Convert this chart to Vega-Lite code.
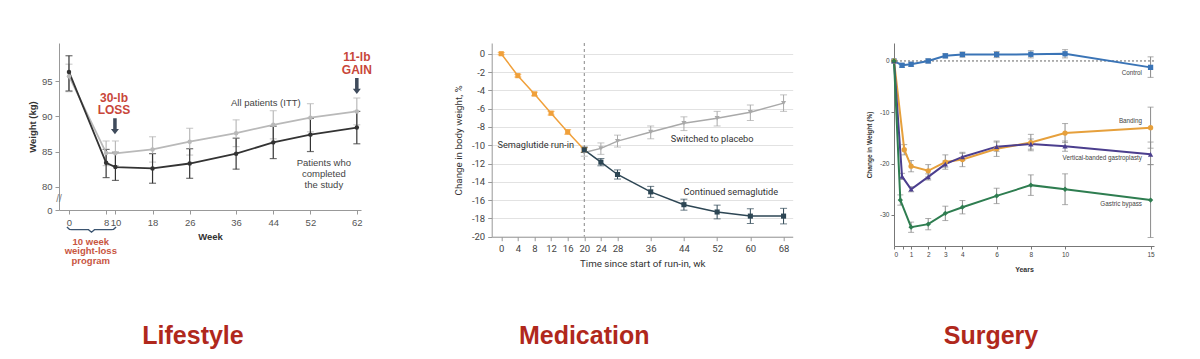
{
  "$schema": "https://vega.github.io/schema/vega-lite/v6.json",
  "background": "white",
  "padding": {"left": 27, "top": 42, "right": 0, "bottom": 0},
  "bounds": "flush",
  "spacing": 130.7,
  "resolve": {"scale": {"color": "independent", "shape": "independent"}},
  "config": {"view": {"stroke": null}},
  "datasets": {
    "life": [
      {"week": 0, "weight": 95.7, "lo": 93.5, "hi": 97.4, "group": "ITT"},
      {"week": 8, "weight": 84.8, "lo": 83.0, "hi": 86.5, "group": "ITT"},
      {"week": 10, "weight": 84.75, "lo": 83.0, "hi": 86.5, "group": "ITT"},
      {"week": 18, "weight": 85.3, "lo": 83.5, "hi": 87.1, "group": "ITT"},
      {"week": 26, "weight": 86.4, "lo": 84.5, "hi": 88.3, "group": "ITT"},
      {"week": 36, "weight": 87.6, "lo": 85.7, "hi": 89.5, "group": "ITT"},
      {"week": 44, "weight": 88.8, "lo": 86.8, "hi": 90.8, "group": "ITT"},
      {"week": 52, "weight": 89.8, "lo": 87.8, "hi": 91.8, "group": "ITT"},
      {"week": 62, "weight": 90.7, "lo": 88.8, "hi": 92.6, "group": "ITT"},
      {"week": 0, "weight": 96.3, "lo": 93.6, "hi": 98.6, "group": "Completers"},
      {"week": 8, "weight": 83.4, "lo": 81.3, "hi": 85.3, "group": "Completers"},
      {"week": 10, "weight": 82.8, "lo": 80.9, "hi": 84.9, "group": "Completers"},
      {"week": 18, "weight": 82.6, "lo": 80.5, "hi": 84.7, "group": "Completers"},
      {"week": 26, "weight": 83.3, "lo": 81.2, "hi": 85.4, "group": "Completers"},
      {"week": 36, "weight": 84.7, "lo": 82.5, "hi": 86.9, "group": "Completers"},
      {"week": 44, "weight": 86.3, "lo": 84.0, "hi": 88.6, "group": "Completers"},
      {"week": 52, "weight": 87.4, "lo": 85.0, "hi": 89.7, "group": "Completers"},
      {"week": 62, "weight": 88.4, "lo": 86.1, "hi": 90.7, "group": "Completers"}
    ],
    "life_red": [
      {"week": 9.7, "weight": 92.64, "label": "30-lb\nLOSS"},
      {"week": 62, "weight": 98.42, "label": "11-lb\nGAIN"}
    ],
    "life_red_small": [
      {"week": 4.7, "weight": 72.19, "label": "10 week\nweight-loss\nprogram"}
    ],
    "life_gray": [
      {"week": 42.4, "weight": 91.93, "label": "All patients (ITT)"},
      {"week": 54.9, "weight": 83.41, "label": "Patients who\ncompleted\nthe study"}
    ],
    "life_arrows": [
      {"week": 9.9, "weight": 88.6},
      {"week": 62, "weight": 94.3}
    ],
    "life_brace": [
      {"week": -0.45, "weight": 74.3},
      {"week": 0.1, "weight": 73.96},
      {"week": 0.6, "weight": 73.91},
      {"week": 4.2, "weight": 73.91},
      {"week": 4.85, "weight": 73.55},
      {"week": 5.5, "weight": 73.91},
      {"week": 9.1, "weight": 73.91},
      {"week": 9.6, "weight": 73.96},
      {"week": 10.15, "weight": 74.3}
    ],
    "life_break": [
      {"week": -2.15, "weight": 78.2, "label": "//"}
    ],
    "med": [
      {"week": 0, "change": 0, "lo": -0.12, "hi": 0.12, "group": "Run-in"},
      {"week": 4, "change": -2.4, "lo": -2.55, "hi": -2.25, "group": "Run-in"},
      {"week": 8, "change": -4.4, "lo": -4.6, "hi": -4.2, "group": "Run-in"},
      {"week": 12, "change": -6.5, "lo": -6.7, "hi": -6.3, "group": "Run-in"},
      {"week": 16, "change": -8.55, "lo": -8.8, "hi": -8.3, "group": "Run-in"},
      {"week": 20, "change": -10.5, "lo": -10.75, "hi": -10.25, "group": "Run-in"},
      {"week": 20, "change": -10.8, "lo": -11.2, "hi": -10.4, "group": "Placebo"},
      {"week": 24, "change": -10.35, "lo": -11.0, "hi": -9.75, "group": "Placebo"},
      {"week": 28, "change": -9.55, "lo": -10.2, "hi": -8.9, "group": "Placebo"},
      {"week": 36, "change": -8.55, "lo": -9.3, "hi": -7.9, "group": "Placebo"},
      {"week": 44, "change": -7.6, "lo": -8.4, "hi": -6.9, "group": "Placebo"},
      {"week": 52, "change": -7.05, "lo": -7.9, "hi": -6.3, "group": "Placebo"},
      {"week": 60, "change": -6.4, "lo": -7.3, "hi": -5.6, "group": "Placebo"},
      {"week": 68, "change": -5.4, "lo": -6.3, "hi": -4.5, "group": "Placebo"},
      {"week": 20, "change": -10.5, "lo": -10.8, "hi": -10.2, "group": "Continued"},
      {"week": 24, "change": -11.85, "lo": -12.25, "hi": -11.45, "group": "Continued"},
      {"week": 28, "change": -13.2, "lo": -13.7, "hi": -12.7, "group": "Continued"},
      {"week": 36, "change": -15.1, "lo": -15.7, "hi": -14.5, "group": "Continued"},
      {"week": 44, "change": -16.5, "lo": -17.1, "hi": -15.9, "group": "Continued"},
      {"week": 52, "change": -17.3, "lo": -18.05, "hi": -16.55, "group": "Continued"},
      {"week": 60, "change": -17.75, "lo": -18.55, "hi": -16.95, "group": "Continued"},
      {"week": 68, "change": -17.75, "lo": -18.6, "hi": -16.9, "group": "Continued"}
    ],
    "med_vline": [{"week": 20}],
    "med_labels": [
      {"week": 8.3, "change": -9.98, "label": "Semaglutide run-in"},
      {"week": 50.8, "change": -9.29, "label": "Switched to placebo"},
      {"week": 55.3, "change": -15.08, "label": "Continued semaglutide"}
    ],
    "surg": [
      {"year": 0, "change": 0, "lo": 0, "hi": 0, "group": "Control"},
      {"year": 0.47, "change": -0.85, "lo": -1.25, "hi": -0.45, "group": "Control"},
      {"year": 1, "change": -0.65, "lo": -1.05, "hi": -0.25, "group": "Control"},
      {"year": 2, "change": 0, "lo": -0.4, "hi": 0.4, "group": "Control"},
      {"year": 3, "change": 1.0, "lo": 0.6, "hi": 1.4, "group": "Control"},
      {"year": 4, "change": 1.25, "lo": 0.75, "hi": 1.75, "group": "Control"},
      {"year": 6, "change": 1.25, "lo": 0.65, "hi": 1.85, "group": "Control"},
      {"year": 8, "change": 1.3, "lo": 0.6, "hi": 2.0, "group": "Control"},
      {"year": 10, "change": 1.4, "lo": 0.6, "hi": 2.2, "group": "Control"},
      {"year": 15, "change": -1.25, "lo": -3.2, "hi": 0.8, "group": "Control"},
      {"year": 0, "change": 0, "lo": 0, "hi": 0, "group": "Banding"},
      {"year": 0.6, "change": -17.3, "lo": -18.3, "hi": -16.3, "group": "Banding"},
      {"year": 1, "change": -20.5, "lo": -21.6, "hi": -19.4, "group": "Banding"},
      {"year": 2, "change": -21.4, "lo": -22.6, "hi": -20.2, "group": "Banding"},
      {"year": 3, "change": -19.7, "lo": -21.1, "hi": -18.3, "group": "Banding"},
      {"year": 4, "change": -19.2, "lo": -20.6, "hi": -17.8, "group": "Banding"},
      {"year": 6, "change": -17.1, "lo": -18.6, "hi": -15.6, "group": "Banding"},
      {"year": 8, "change": -15.9, "lo": -17.5, "hi": -14.3, "group": "Banding"},
      {"year": 10, "change": -14.05, "lo": -15.9, "hi": -12.2, "group": "Banding"},
      {"year": 15, "change": -13.0, "lo": -17.0, "hi": -9.0, "group": "Banding"},
      {"year": 0, "change": 0, "lo": 0, "hi": 0, "group": "VBG"},
      {"year": 0.47, "change": -22.5, "lo": -23.1, "hi": -21.9, "group": "VBG"},
      {"year": 1, "change": -25.0, "lo": -25.5, "hi": -24.5, "group": "VBG"},
      {"year": 2, "change": -22.6, "lo": -23.2, "hi": -22.0, "group": "VBG"},
      {"year": 3, "change": -20.1, "lo": -20.7, "hi": -19.5, "group": "VBG"},
      {"year": 4, "change": -18.7, "lo": -19.4, "hi": -18.0, "group": "VBG"},
      {"year": 6, "change": -16.7, "lo": -17.6, "hi": -15.8, "group": "VBG"},
      {"year": 8, "change": -16.2, "lo": -17.2, "hi": -15.2, "group": "VBG"},
      {"year": 10, "change": -16.6, "lo": -17.6, "hi": -15.6, "group": "VBG"},
      {"year": 15, "change": -18.2, "lo": -20.2, "hi": -15.8, "group": "VBG"},
      {"year": 0, "change": 0, "lo": 0, "hi": 0, "group": "Bypass"},
      {"year": 0.37, "change": -27.1, "lo": -28.1, "hi": -26.1, "group": "Bypass"},
      {"year": 1, "change": -32.4, "lo": -33.4, "hi": -31.4, "group": "Bypass"},
      {"year": 2, "change": -31.8, "lo": -32.9, "hi": -30.7, "group": "Bypass"},
      {"year": 3, "change": -29.7, "lo": -31.1, "hi": -28.3, "group": "Bypass"},
      {"year": 4, "change": -28.5, "lo": -29.8, "hi": -27.2, "group": "Bypass"},
      {"year": 6, "change": -26.3, "lo": -27.8, "hi": -24.8, "group": "Bypass"},
      {"year": 8, "change": -24.2, "lo": -26.2, "hi": -22.2, "group": "Bypass"},
      {"year": 10, "change": -25.0, "lo": -28.0, "hi": -22.0, "group": "Bypass"},
      {"year": 15, "change": -27.1, "lo": -34.4, "hi": -20.2, "group": "Bypass"}
    ],
    "surg_zero": [{"change": 0}],
    "surg_labels": [
      {"year": 14.5, "change": -2.28, "label": "Control"},
      {"year": 14.5, "change": -11.7, "label": "Banding"},
      {"year": 14.5, "change": -18.9, "label": "Vertical-banded gastroplasty"},
      {"year": 14.5, "change": -27.8, "label": "Gastric bypass"}
    ]
  },
  "hconcat": [
    {
      "width": 302,
      "height": 167,
      "title": {"text": "Lifestyle", "orient": "bottom", "anchor": "middle", "frame": "group", "dx": -17, "offset": 58, "font": "Liberation Sans", "fontSize": 25, "fontWeight": "bold", "color": "#b0281c"},
      "encoding": {
        "x": {"field": "week", "type": "quantitative", "title": "Week",
          "scale": {"domain": [-2.15, 62.9], "nice": false, "zero": false},
          "axis": {"values": [0, 8, 10, 18, 26, 36, 44, 52, 62], "labelOverlap": false, "grid": false, "domainColor": "#999", "tickColor": "#999", "tickSize": 4, "labelFont": "Liberation Sans", "labelFontSize": 9.5, "labelColor": "#555", "labelPadding": 3, "titleFont": "Liberation Sans", "titleFontSize": 9.5, "titleFontWeight": "bold", "titleColor": "#333", "titlePadding": 5}},
        "y": {"field": "weight", "type": "quantitative", "title": "Weight (kg)",
          "scale": {"domain": [76.7, 100.41], "nice": false, "zero": false},
          "axis": {"values": [76.7, 80, 85, 90, 95], "labelOverlap": false, "labelExpr": "datum.value < 78 ? '0' : format(datum.value, 'd')", "grid": false, "domainColor": "#999", "tickColor": "#999", "tickSize": 4, "labelFont": "Liberation Sans", "labelFontSize": 9.5, "labelColor": "#555", "labelPadding": 3, "titleFont": "Liberation Sans", "titleFontSize": 9.5, "titleFontWeight": "bold", "titleColor": "#333", "titlePadding": 4}}
      },
      "layer": [
        {
          "data": {"name": "life"},
          "mark": {"type": "errorbar", "ticks": true, "size": 7, "thickness": 1.2},
          "encoding": {
            "y": {"field": "lo", "type": "quantitative", "title": "Weight (kg)"},
            "y2": {"field": "hi"},
            "color": {"field": "group", "type": "nominal", "scale": {"domain": ["ITT", "Completers"], "range": ["#b9b9b9", "#333333"]}, "legend": null}
          }
        },
        {
          "data": {"name": "life"},
          "mark": {"type": "line", "strokeWidth": 1.8},
          "encoding": {
            "color": {"field": "group", "type": "nominal", "scale": {"domain": ["ITT", "Completers"], "range": ["#b9b9b9", "#333333"]}, "legend": null}
          }
        },
        {
          "data": {"name": "life"},
          "mark": {"type": "point", "filled": true, "size": 20, "opacity": 1},
          "encoding": {
            "color": {"field": "group", "type": "nominal", "scale": {"domain": ["ITT", "Completers"], "range": ["#b9b9b9", "#333333"]}, "legend": null}
          }
        },
        {
          "data": {"name": "life_red"},
          "mark": {"type": "text", "lineBreak": "\n", "font": "Liberation Sans", "fontSize": 12, "fontWeight": "bold", "color": "#c8463a", "align": "center", "baseline": "middle", "lineHeight": 12.5},
          "encoding": {"text": {"field": "label"}}
        },
        {
          "data": {"name": "life_red_small"},
          "mark": {"type": "text", "lineBreak": "\n", "font": "Liberation Sans", "fontSize": 9.5, "fontWeight": "bold", "color": "#c8563f", "align": "center", "baseline": "middle", "lineHeight": 9.7},
          "encoding": {"text": {"field": "label"}}
        },
        {
          "data": {"name": "life_gray"},
          "mark": {"type": "text", "lineBreak": "\n", "font": "Liberation Sans", "fontSize": 9.5, "color": "#444", "align": "center", "baseline": "middle", "lineHeight": 11.3},
          "encoding": {"text": {"field": "label"}}
        },
        {
          "data": {"name": "life_arrows"},
          "mark": {"type": "point", "shape": "M-0.22,-1 L0.22,-1 L0.22,0.35 L0.5,0.35 L0,1 L-0.5,0.35 L-0.22,0.35 Z", "size": 256, "filled": true, "color": "#3f4b5c", "opacity": 1}
        },
        {
          "data": {"name": "life_brace"},
          "mark": {"type": "line", "color": "#3b5470", "strokeWidth": 1.3}
        },
        {
          "data": {"name": "life_break"},
          "mark": {"type": "text", "font": "Liberation Sans", "fontSize": 10, "color": "#777", "align": "center", "baseline": "middle"},
          "encoding": {"text": {"field": "label"}}
        }
      ]
    },
    {
      "bounds": "flush",
      "spacing": 101.3,
      "resolve": {"scale": {"color": "independent", "shape": "independent"}},
      "hconcat": [
        {
          "width": 301,
          "height": 193.7,
          "title": {"text": "Medication", "orient": "bottom", "anchor": "middle", "frame": "group", "dx": -58, "offset": 56, "font": "Liberation Sans", "fontSize": 25, "fontWeight": "bold", "color": "#b0281c"},
          "encoding": {
            "x": {"field": "week", "type": "quantitative", "title": "Time since start of run-in, wk",
              "scale": {"domain": [-2.3, 70.2], "nice": false, "zero": false},
              "axis": {"values": [0, 4, 8, 12, 16, 20, 24, 28, 36, 44, 52, 60, 68], "labelOverlap": false, "grid": false, "domainColor": "#999", "tickColor": "#999", "tickSize": 4, "labelFont": "Roboto", "labelFontSize": 9.5, "labelColor": "#444", "labelPadding": 3, "titleFont": "Roboto", "titleFontSize": 9.8, "titleFontWeight": "normal", "titleColor": "#333", "titlePadding": 5}},
            "y": {"field": "change", "type": "quantitative", "title": "Change in body weight, %",
              "scale": {"domain": [-20, 1.17], "nice": false, "zero": false},
              "axis": {"values": [-20, -18, -16, -14, -12, -10, -8, -6, -4, -2, 0], "labelOverlap": false, "labelExpr": "'' + datum.value", "grid": true, "gridColor": "#e2e2e2", "domainColor": "#999", "tickColor": "#999", "tickSize": 4, "labelFont": "Roboto", "labelFontSize": 9.5, "labelColor": "#444", "labelPadding": 3, "titleFont": "Roboto", "titleFontSize": 9.8, "titleFontWeight": "normal", "titleColor": "#333", "titlePadding": 8}}
          },
          "layer": [
            {
              "data": {"name": "med_vline"},
              "mark": {"type": "rule", "color": "#888", "strokeDash": [3, 3], "strokeWidth": 1},
              "encoding": {"y": null}
            },
            {
              "data": {"name": "med"},
              "mark": {"type": "errorbar", "ticks": true, "size": 7, "thickness": 1},
              "encoding": {
                "y": {"field": "lo", "type": "quantitative", "title": "Change in body weight, %"},
                "y2": {"field": "hi"},
                "color": {"field": "group", "type": "nominal", "scale": {"domain": ["Run-in", "Placebo", "Continued"], "range": ["#f0a03a", "#a9a9a9", "#2d4654"]}, "legend": null}
              }
            },
            {
              "data": {"name": "med"},
              "mark": {"type": "line", "strokeWidth": 1.5},
              "encoding": {
                "color": {"field": "group", "type": "nominal", "scale": {"domain": ["Run-in", "Placebo", "Continued"], "range": ["#f0a03a", "#a9a9a9", "#2d4654"]}, "legend": null}
              }
            },
            {
              "data": {"name": "med"},
              "mark": {"type": "point", "filled": true, "size": 26, "opacity": 1},
              "encoding": {
                "color": {"field": "group", "type": "nominal", "scale": {"domain": ["Run-in", "Placebo", "Continued"], "range": ["#f0a03a", "#a9a9a9", "#2d4654"]}, "legend": null},
                "shape": {"field": "group", "type": "nominal", "scale": {"domain": ["Run-in", "Placebo", "Continued"], "range": ["square", "triangle-down", "square"]}, "legend": null}
              }
            },
            {
              "data": {"name": "med_labels"},
              "mark": {"type": "text", "font": "Roboto", "fontSize": 9.2, "color": "#333", "align": "center", "baseline": "middle"},
              "encoding": {"text": {"field": "label"}}
            }
          ]
        },
        {
          "width": 260,
          "height": 203,
          "title": {"text": "Surgery", "orient": "bottom", "anchor": "middle", "frame": "group", "dx": -33, "offset": 51, "font": "Liberation Sans", "fontSize": 25, "fontWeight": "bold", "color": "#b0281c"},
          "encoding": {
            "x": {"field": "year", "type": "quantitative", "title": "Years",
              "scale": {"domain": [0, 15.2], "nice": false, "zero": false},
              "axis": {"values": [0, 0.5, 1, 2, 3, 4, 6, 8, 10, 15], "labelOverlap": false, "labelExpr": "datum.value == 0.5 ? '' : format(datum.value, 'd')", "grid": false, "domainColor": "#777", "tickColor": "#777", "tickSize": 3, "labelFont": "Liberation Sans", "labelFontSize": 6.5, "labelColor": "#444", "labelPadding": 2, "titleFont": "Liberation Sans", "titleFontSize": 7, "titleFontWeight": "bold", "titleColor": "#333", "titlePadding": 8}},
            "y": {"field": "change", "type": "quantitative", "title": "Change in Weight (%)",
              "scale": {"domain": [-36.06, 3.5], "nice": false, "zero": false},
              "axis": {"values": [-30, -20, -10, 0], "labelOverlap": false, "labelExpr": "'' + datum.value", "grid": false, "domainColor": "#777", "tickColor": "#777", "tickSize": 3, "labelFont": "Liberation Sans", "labelFontSize": 6.5, "labelColor": "#444", "labelPadding": 2, "titleFont": "Liberation Sans", "titleFontSize": 6.5, "titleFontWeight": "bold", "titleColor": "#333", "titlePadding": 7}}
          },
          "layer": [
            {
              "data": {"name": "surg_zero"},
              "mark": {"type": "rule", "color": "#555", "strokeDash": [2, 2], "strokeWidth": 0.9},
              "encoding": {"x": null}
            },
            {
              "data": {"name": "surg"},
              "mark": {"type": "errorbar", "ticks": true, "size": 6, "thickness": 1, "color": "#8a8a8a"},
              "encoding": {
                "y": {"field": "lo", "type": "quantitative", "title": "Change in Weight (%)"},
                "y2": {"field": "hi"}
              }
            },
            {
              "data": {"name": "surg"},
              "mark": {"type": "line", "strokeWidth": 2},
              "encoding": {
                "color": {"field": "group", "type": "nominal", "scale": {"domain": ["Control", "Banding", "VBG", "Bypass"], "range": ["#3a74b6", "#e6a03c", "#4b3e8e", "#2e7d50"]}, "legend": null}
              }
            },
            {
              "data": {"name": "surg"},
              "mark": {"type": "point", "filled": true, "size": 28, "opacity": 1},
              "encoding": {
                "color": {"field": "group", "type": "nominal", "scale": {"domain": ["Control", "Banding", "VBG", "Bypass"], "range": ["#3a74b6", "#e6a03c", "#4b3e8e", "#2e7d50"]}, "legend": null},
                "shape": {"field": "group", "type": "nominal", "scale": {"domain": ["Control", "Banding", "VBG", "Bypass"], "range": ["square", "circle", "triangle-up", "diamond"]}, "legend": null}
              }
            },
            {
              "data": {"name": "surg_labels"},
              "mark": {"type": "text", "font": "Liberation Sans", "fontSize": 6.3, "color": "#444", "align": "right", "baseline": "middle"},
              "encoding": {"text": {"field": "label"}}
            }
          ]
        }
      ]
    }
  ]
}
